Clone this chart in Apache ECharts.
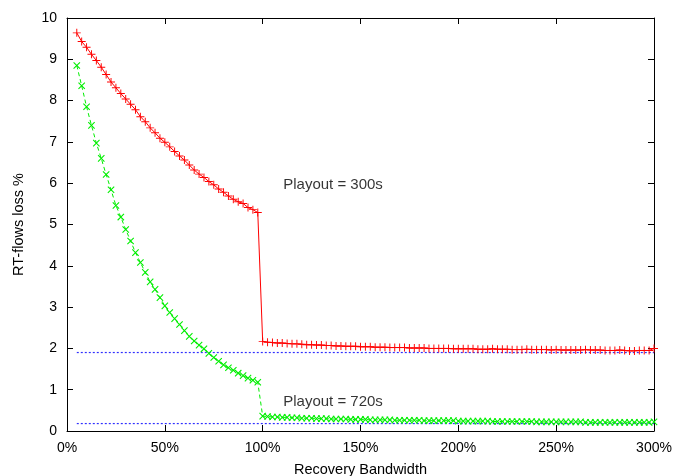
<!DOCTYPE html>
<html>
<head>
<meta charset="utf-8">
<script src="https://cdn.jsdelivr.net/npm/echarts@6/dist/echarts.min.js"></script>
<style>html,body{margin:0;padding:0;background:#fff;overflow:hidden}#c{width:673px;height:476px}</style>
</head>
<body>
<div id="c"></div>
<script>
// Recovery bandwidth (%) sample points
var bandwidth = [5,7.5,10,12.5,15,17.5,20,22.5,25,27.5,30,32.5,35,37.5,40,42.5,45,47.5,50,52.5,55,57.5,60,62.5,65,67.5,70,72.5,75,77.5,80,82.5,85,87.5,90,92.5,95,97.5,
100,102.5,105,107.5,110,112.5,115,117.5,120,122.5,125,127.5,130,132.5,135,137.5,140,142.5,145,147.5,
150,152.5,155,157.5,160,162.5,165,167.5,170,172.5,175,177.5,180,182.5,185,187.5,190,192.5,195,197.5,
200,202.5,205,207.5,210,212.5,215,217.5,220,222.5,225,227.5,230,232.5,235,237.5,240,242.5,245,247.5,
250,252.5,255,257.5,260,262.5,265,267.5,270,272.5,275,277.5,280,282.5,285,287.5,290,292.5,295,297.5,300];

// Playout = 300s (red)
var loss300 = [9.64,9.43,9.29,9.12,8.97,8.81,8.63,8.45,8.31,8.17,8.04,7.91,7.78,7.61,7.49,7.34,7.22,7.09,6.99,6.88,6.77,6.66,6.56,6.44,6.32,6.22,6.14,6.04,5.96,5.86,5.78,5.69,5.61,5.55,5.51,5.41,5.36,5.29,
2.17,2.15,2.14,2.13,2.13,2.12,2.11,2.11,2.10,2.09,2.09,2.08,2.08,2.07,2.07,2.06,2.06,2.05,2.05,2.05,
2.04,2.04,2.04,2.03,2.03,2.03,2.02,2.02,2.02,2.02,2.01,2.01,2.01,2.01,2.00,2.00,2.00,2.00,2.00,1.99,
1.99,1.99,1.99,1.99,1.98,1.98,1.98,1.99,1.98,1.98,1.98,1.97,1.97,1.97,1.98,1.97,1.97,1.97,1.97,1.96,
1.97,1.96,1.96,1.96,1.96,1.96,1.97,1.96,1.96,1.96,1.95,1.95,1.95,1.96,1.95,1.94,1.94,1.95,1.95,1.95,2.00];

// Playout = 720s (green)
var loss720 = [8.85,8.36,7.85,7.40,6.97,6.60,6.21,5.84,5.46,5.18,4.88,4.60,4.32,4.08,3.84,3.61,3.43,3.23,3.03,2.87,2.72,2.58,2.43,2.29,2.18,2.08,1.99,1.88,1.78,1.69,1.60,1.53,1.47,1.40,1.34,1.28,1.23,1.18,
0.36,0.35,0.34,0.34,0.33,0.33,0.32,0.32,0.31,0.31,0.31,0.30,0.30,0.30,0.29,0.29,0.29,0.29,0.28,0.28,
0.28,0.28,0.27,0.27,0.27,0.27,0.27,0.26,0.26,0.26,0.26,0.26,0.26,0.25,0.25,0.25,0.25,0.25,0.25,0.25,
0.24,0.24,0.24,0.24,0.24,0.24,0.24,0.23,0.23,0.23,0.23,0.23,0.23,0.23,0.23,0.23,0.22,0.22,0.22,0.22,
0.22,0.22,0.22,0.22,0.22,0.22,0.21,0.21,0.21,0.21,0.21,0.21,0.21,0.21,0.21,0.21,0.21,0.21,0.21,0.21,0.22];

// Horizontal reference levels (blue dotted)
var refLevels = [1.9, 0.18];
var refRange = [5, 300];

var labels = ['Playout = 300s', 'Playout = 720s'];
var labelPos = [[110.5, 5.96], [110.5, 0.71]];

function pairs(xs, ys){ return xs.map(function(x,i){ return [x, ys[i]]; }); }

var FONT = 'Liberation Sans, Arial, sans-serif';
var plusPath = 'path://M0,4.4L10,4.4L10,5.6L0,5.6Z M4.4,0L5.6,0L5.6,10L4.4,10Z';

var chart = echarts.init(document.getElementById('c'), null, {renderer:'canvas'});
function axisCommon(){ return {
  axisLine:{show:true, onZero:false, lineStyle:{color:'#000', width:1}},
  axisTick:{show:true, inside:true, length:6, lineStyle:{color:'#000'}},
  splitLine:{show:false}
};}
var series = [
  {type:'line', data:pairs(bandwidth, loss300), symbol:plusPath, symbolSize:8, showSymbol:true,
   lineStyle:{color:'#ff0000', width:1}, itemStyle:{color:'#ff0000'}, z:3},
  {type:'line', data:pairs(bandwidth, loss720), symbol:plusPath, symbolSize:9, symbolRotate:45, showSymbol:true,
   lineStyle:{color:'#00ee00', width:1, type:[4,3]}, itemStyle:{color:'#00ee00'}, z:2}
];
refLevels.forEach(function(v){
  series.push({type:'line', data:[[refRange[0], v],[refRange[1], v]], symbol:'none',
    lineStyle:{color:'#3030ff', width:1.2, type:[2,2]}, z:1});
});
series.push({type:'scatter', data:labelPos.map(function(p,i){return {value:p, name:labels[i]};}),
  symbolSize:0, label:{show:true, position:'right', distance:0, formatter:'{b}', color:'#000', fontSize:15, fontFamily:FONT}, z:4});

chart.setOption({
  animation:false,
  backgroundColor:'#fff',
  grid:{left:67, right:19, top:18, bottom:45, containLabel:false, outerBoundsMode:'none'},
  xAxis:[
    Object.assign({type:'value', min:0, max:300, interval:50, position:'bottom',
      name:'Recovery Bandwidth', nameLocation:'middle', nameGap:31,
      nameTextStyle:{color:'#000', fontSize:14.5, fontFamily:FONT},
      axisLabel:{formatter:'{value}%', color:'#000', fontSize:14, fontFamily:FONT, margin:10}}, axisCommon()),
    Object.assign({type:'value', min:0, max:300, interval:50, position:'top', axisLabel:{show:false}}, axisCommon())
  ],
  yAxis:[
    Object.assign({type:'value', min:0, max:10, interval:1, position:'left',
      name:'RT-flows loss %', nameLocation:'middle', nameGap:41, nameRotate:90,
      nameTextStyle:{color:'#000', fontSize:14.5, fontFamily:FONT},
      axisLabel:{color:'#000', fontSize:14, fontFamily:FONT, margin:10}}, axisCommon()),
    Object.assign({type:'value', min:0, max:10, interval:1, position:'right', axisLabel:{show:false}}, axisCommon())
  ],
  series:series
});
</script>
</body>
</html>
